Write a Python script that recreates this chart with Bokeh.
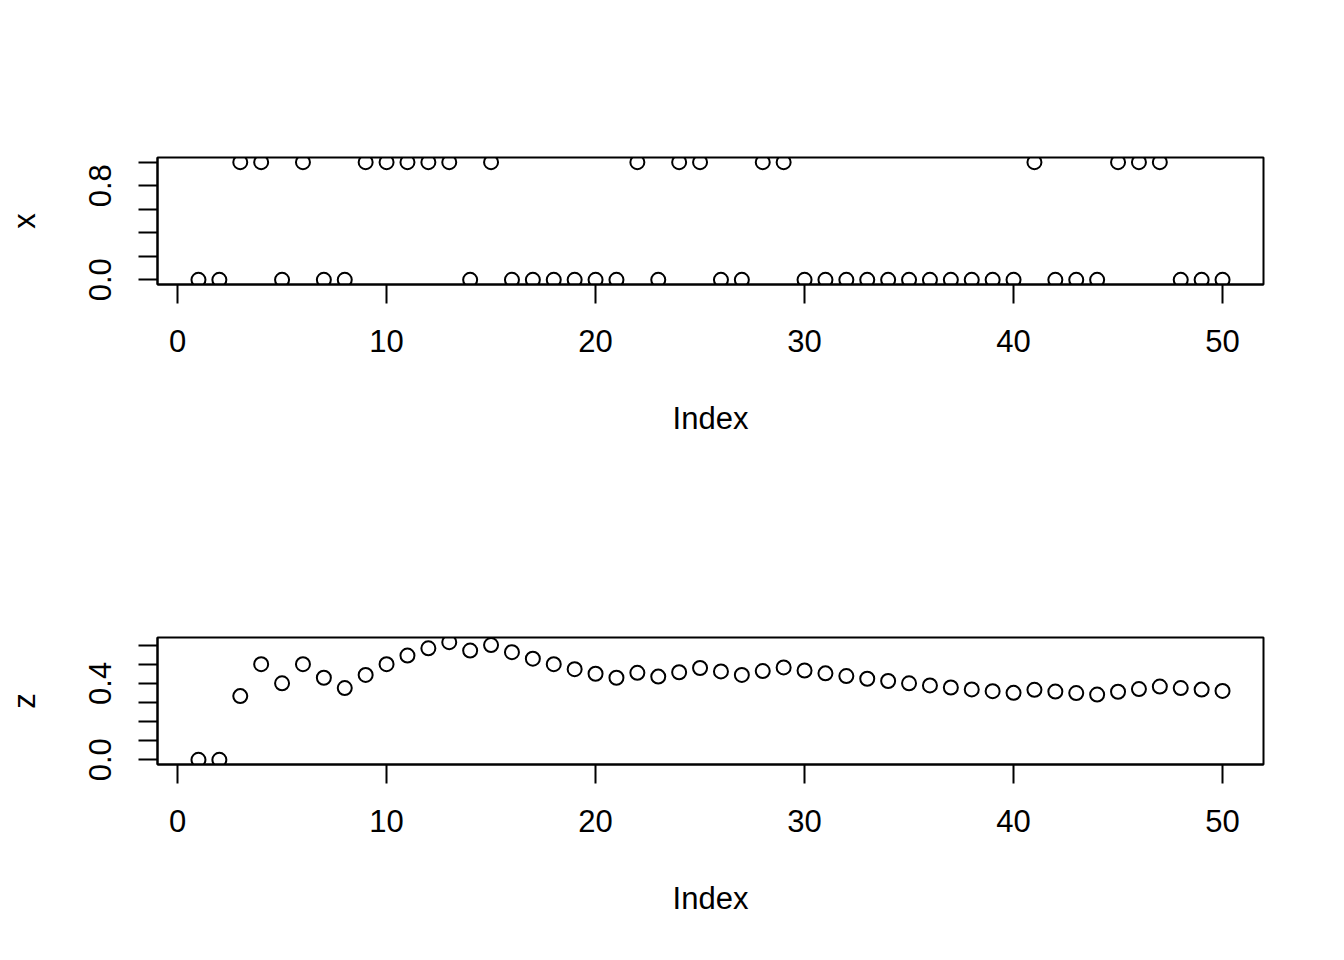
from bokeh.plotting import figure
from bokeh.layouts import column
from bokeh.models import Range1d, FixedTicker
from bokeh.embed import file_html
from bokeh.resources import INLINE

# data
index = list(range(1, 51))
x_vals = [0, 0, 1, 1, 0, 1, 0, 0, 1, 1,
          1, 1, 1, 0, 1, 0, 0, 0, 0, 0,
          0, 1, 0, 1, 1, 0, 0, 1, 1, 0,
          0, 0, 0, 0, 0, 0, 0, 0, 0, 0,
          1, 0, 0, 0, 1, 1, 1, 0, 0, 0]
z_vals = [0.000, 0.000, 0.333, 0.500, 0.400, 0.500, 0.429, 0.375, 0.444, 0.500,
          0.545, 0.583, 0.615, 0.571, 0.600, 0.563, 0.529, 0.500, 0.474, 0.450,
          0.429, 0.455, 0.435, 0.458, 0.480, 0.462, 0.444, 0.464, 0.483, 0.467,
          0.452, 0.438, 0.424, 0.412, 0.400, 0.389, 0.378, 0.368, 0.359, 0.350,
          0.366, 0.357, 0.349, 0.341, 0.356, 0.370, 0.383, 0.375, 0.367, 0.360]
x_ticks = [0, 10, 20, 30, 40, 50]
y1_ticks = [0.0, 0.2, 0.4, 0.6, 0.8, 1.0]
y1_labels = {0.0: "0.0", 0.8: "0.8"}
y2_ticks = [0.0, 0.1, 0.2, 0.3, 0.4, 0.5, 0.6]
y2_labels = {0.0: "0.0", 0.4: "0.4"}

FONT = "Liberation Sans"
FS = "31px"


def panel(yvals, ylabel, yticks, ylabels, top_border, bottom_border):
    n = len(index)
    xr = Range1d(1 - 0.04 * (n - 1), n + 0.04 * (n - 1))
    ymin, ymax = min(yvals), max(yvals)
    d = ymax - ymin
    yr = Range1d(ymin - 0.04 * d, ymax + 0.04 * d)
    p = figure(frame_width=1106, frame_height=127, x_range=xr, y_range=yr,
               output_backend="svg", toolbar_location=None,
               min_border_left=157, min_border_right=73,
               min_border_top=top_border, min_border_bottom=bottom_border)
    p.grid.visible = False
    p.outline_line_color = "black"
    p.outline_line_width = 2
    p.outline_line_alpha = 1
    p.scatter(index, yvals, size=14, fill_color=None, line_color="black", line_width=2)

    p.xaxis.ticker = FixedTicker(ticks=x_ticks)
    p.yaxis.ticker = FixedTicker(ticks=yticks)
    labs = {}
    for t in yticks:
        labs[t] = ylabels.get(t, "")
    p.yaxis.major_label_overrides = labs
    p.yaxis.major_label_orientation = "vertical"
    p.xaxis.axis_label = "Index"
    p.yaxis.axis_label = ylabel
    for ax in (p.xaxis, p.yaxis):
        ax.axis_line_color = "black"
        ax.axis_line_width = 2
        ax.major_tick_line_color = "black"
        ax.major_tick_line_width = 2
        ax.major_tick_out = 19
        ax.major_tick_in = 0
        ax.minor_tick_line_color = None
        ax.major_label_text_font = FONT
        ax.major_label_text_font_size = FS
        ax.major_label_text_color = "black"
        ax.axis_label_text_font = FONT
        ax.axis_label_text_font_size = FS
        ax.axis_label_text_font_style = "normal"
        ax.axis_label_text_color = "black"
    p.xaxis.major_label_standoff = 26
    p.xaxis.axis_label_standoff = 46
    p.yaxis.major_label_standoff = 27
    p.yaxis.axis_label_standoff = 45
    return p


p1 = panel(x_vals, "x", y1_ticks, y1_labels, 157, 196)
p2 = panel(z_vals, "z", y2_ticks, y2_labels, 157, 188)
layout = column(p1, p2, spacing=0)

open("out.html", "w").write(file_html(layout, INLINE))
